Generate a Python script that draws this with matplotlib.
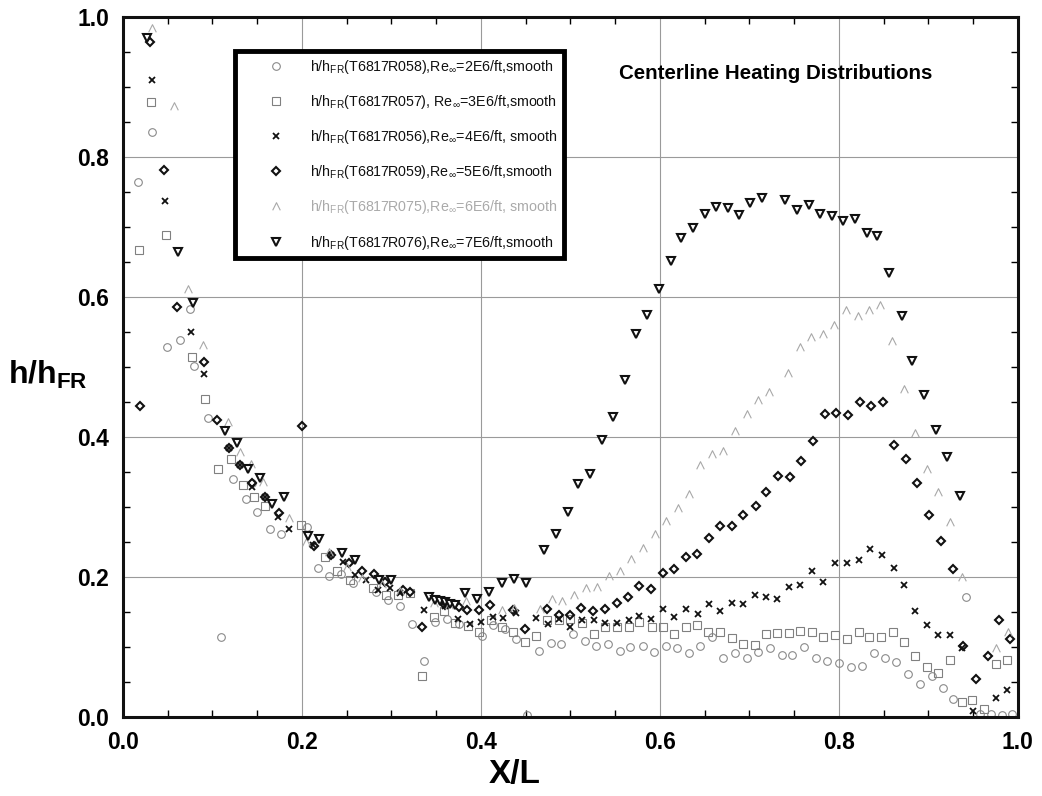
import matplotlib
matplotlib.use('Agg')
import matplotlib.pyplot as plt
from matplotlib.path import Path

plt.rcParams['font.family'] = ['Liberation Sans', 'DejaVu Sans']
plt.rcParams['mathtext.fontset'] = 'custom'
plt.rcParams['mathtext.rm'] = 'Liberation Sans'
plt.rcParams['mathtext.it'] = 'Liberation Sans:italic'
plt.rcParams['mathtext.bf'] = 'Liberation Sans:bold'

# ---------------- data ----------------
x_re2 = [0.017, 0.032, 0.049, 0.064, 0.075, 0.079, 0.095, 0.110, 0.123, 0.137, 0.144, 0.150,
         0.164, 0.177, 0.206, 0.218, 0.230, 0.244, 0.257, 0.283, 0.296, 0.309, 0.323, 0.336,
         0.349, 0.362, 0.376, 0.401, 0.413, 0.427, 0.439, 0.452, 0.465, 0.478, 0.490, 0.503,
         0.516, 0.529, 0.542, 0.555, 0.567, 0.581, 0.593, 0.607, 0.619, 0.632, 0.645, 0.658,
         0.671, 0.684, 0.697, 0.710, 0.723, 0.736, 0.748, 0.761, 0.774, 0.787, 0.800, 0.813,
         0.826, 0.839, 0.851, 0.864, 0.877, 0.891, 0.904, 0.916, 0.928, 0.942, 0.958, 0.970,
         0.982, 0.993]
y_re2 = [0.765, 0.836, 0.529, 0.538, 0.583, 0.501, 0.427, 0.115, 0.340, 0.311, 0.334, 0.293,
         0.269, 0.261, 0.272, 0.213, 0.202, 0.204, 0.192, 0.178, 0.167, 0.159, 0.133, 0.080,
         0.136, 0.140, 0.133, 0.116, 0.131, 0.126, 0.112, 0.003, 0.095, 0.106, 0.104, 0.119,
         0.108, 0.102, 0.105, 0.094, 0.100, 0.102, 0.093, 0.102, 0.099, 0.092, 0.102, 0.114,
         0.085, 0.092, 0.085, 0.093, 0.098, 0.088, 0.088, 0.100, 0.084, 0.080, 0.077, 0.072,
         0.073, 0.091, 0.084, 0.078, 0.062, 0.047, 0.059, 0.042, 0.026, 0.172, 0.004, 0.004,
         0.003, 0.004]

x_re3 = [0.018, 0.031, 0.048, 0.077, 0.092, 0.106, 0.121, 0.134, 0.146, 0.159, 0.199, 0.226,
         0.239, 0.254, 0.279, 0.294, 0.307, 0.321, 0.334, 0.347, 0.359, 0.371, 0.386, 0.398,
         0.411, 0.424, 0.436, 0.449, 0.462, 0.474, 0.487, 0.500, 0.513, 0.526, 0.539, 0.552,
         0.565, 0.577, 0.591, 0.603, 0.616, 0.629, 0.641, 0.654, 0.667, 0.680, 0.693, 0.706,
         0.719, 0.731, 0.744, 0.757, 0.770, 0.782, 0.796, 0.809, 0.822, 0.834, 0.847, 0.860,
         0.873, 0.885, 0.898, 0.911, 0.924, 0.937, 0.949, 0.962, 0.975, 0.988]
y_re3 = [0.667, 0.878, 0.689, 0.514, 0.455, 0.354, 0.369, 0.331, 0.314, 0.301, 0.274, 0.228,
         0.209, 0.196, 0.184, 0.174, 0.174, 0.177, 0.058, 0.143, 0.151, 0.134, 0.130, 0.121,
         0.139, 0.129, 0.121, 0.107, 0.116, 0.139, 0.138, 0.140, 0.134, 0.119, 0.129, 0.129,
         0.129, 0.136, 0.129, 0.128, 0.119, 0.128, 0.132, 0.122, 0.121, 0.113, 0.105, 0.103,
         0.118, 0.120, 0.120, 0.123, 0.122, 0.115, 0.117, 0.112, 0.122, 0.115, 0.114, 0.122,
         0.107, 0.087, 0.071, 0.063, 0.081, 0.022, 0.024, 0.012, 0.076, 0.081]

x_re4 = [0.033, 0.047, 0.076, 0.090, 0.118, 0.131, 0.144, 0.159, 0.173, 0.185, 0.212, 0.233,
         0.246, 0.259, 0.272, 0.285, 0.298, 0.309, 0.336, 0.360, 0.374, 0.388, 0.400, 0.413,
         0.425, 0.439, 0.462, 0.475, 0.487, 0.500, 0.513, 0.526, 0.539, 0.552, 0.565, 0.577,
         0.590, 0.603, 0.616, 0.629, 0.642, 0.655, 0.667, 0.680, 0.693, 0.706, 0.719, 0.731,
         0.744, 0.756, 0.770, 0.782, 0.796, 0.809, 0.822, 0.835, 0.848, 0.861, 0.873, 0.885,
         0.898, 0.911, 0.924, 0.937, 0.950, 0.975, 0.988]
y_re4 = [0.910, 0.737, 0.550, 0.490, 0.384, 0.360, 0.328, 0.314, 0.286, 0.269, 0.246, 0.231,
         0.222, 0.203, 0.196, 0.182, 0.184, 0.177, 0.153, 0.158, 0.140, 0.133, 0.136, 0.143,
         0.142, 0.148, 0.142, 0.133, 0.140, 0.129, 0.139, 0.139, 0.135, 0.135, 0.138, 0.144,
         0.140, 0.154, 0.143, 0.155, 0.147, 0.161, 0.151, 0.163, 0.162, 0.175, 0.171, 0.168,
         0.186, 0.189, 0.209, 0.193, 0.220, 0.220, 0.225, 0.240, 0.231, 0.213, 0.189, 0.151,
         0.131, 0.117, 0.117, 0.099, 0.008, 0.027, 0.039]

x_re5 = [0.019, 0.030, 0.046, 0.060, 0.090, 0.105, 0.118, 0.131, 0.144, 0.159, 0.174, 0.200,
         0.213, 0.233, 0.253, 0.267, 0.280, 0.293, 0.313, 0.321, 0.334, 0.360, 0.375, 0.384,
         0.398, 0.410, 0.436, 0.449, 0.474, 0.487, 0.499, 0.512, 0.525, 0.539, 0.552, 0.564,
         0.577, 0.590, 0.603, 0.616, 0.629, 0.641, 0.655, 0.667, 0.680, 0.693, 0.707, 0.719,
         0.732, 0.745, 0.758, 0.771, 0.784, 0.797, 0.810, 0.823, 0.836, 0.849, 0.861, 0.875,
         0.887, 0.901, 0.914, 0.927, 0.939, 0.953, 0.966, 0.979, 0.991]
y_re5 = [0.444, 0.965, 0.781, 0.586, 0.507, 0.424, 0.384, 0.360, 0.334, 0.314, 0.292, 0.416,
         0.244, 0.231, 0.220, 0.208, 0.204, 0.193, 0.181, 0.178, 0.128, 0.160, 0.157, 0.153,
         0.153, 0.160, 0.153, 0.126, 0.154, 0.146, 0.146, 0.156, 0.151, 0.155, 0.163, 0.172,
         0.187, 0.183, 0.206, 0.211, 0.228, 0.233, 0.256, 0.273, 0.273, 0.288, 0.302, 0.322,
         0.344, 0.343, 0.366, 0.395, 0.433, 0.434, 0.431, 0.450, 0.445, 0.450, 0.389, 0.369,
         0.335, 0.288, 0.251, 0.212, 0.101, 0.054, 0.087, 0.139, 0.111]

x_re6 = [0.032, 0.057, 0.073, 0.089, 0.117, 0.131, 0.143, 0.157, 0.185, 0.205, 0.230, 0.250,
         0.267, 0.290, 0.310, 0.348, 0.364, 0.383, 0.423, 0.437, 0.466, 0.479, 0.491, 0.504,
         0.517, 0.530, 0.543, 0.555, 0.568, 0.581, 0.594, 0.607, 0.620, 0.633, 0.645, 0.658,
         0.671, 0.684, 0.697, 0.710, 0.722, 0.743, 0.756, 0.769, 0.782, 0.794, 0.808, 0.821,
         0.834, 0.846, 0.859, 0.873, 0.885, 0.898, 0.911, 0.924, 0.937, 0.975, 0.989]
y_re6 = [0.984, 0.873, 0.611, 0.531, 0.422, 0.378, 0.361, 0.336, 0.285, 0.250, 0.236, 0.215,
         0.198, 0.190, 0.180, 0.163, 0.160, 0.166, 0.153, 0.156, 0.155, 0.169, 0.166, 0.174,
         0.184, 0.186, 0.201, 0.208, 0.226, 0.241, 0.261, 0.280, 0.299, 0.319, 0.360, 0.376,
         0.380, 0.408, 0.433, 0.453, 0.464, 0.491, 0.528, 0.543, 0.547, 0.560, 0.581, 0.573,
         0.581, 0.589, 0.537, 0.468, 0.406, 0.354, 0.322, 0.279, 0.200, 0.098, 0.121]

x_re7 = [0.027, 0.061, 0.078, 0.114, 0.127, 0.140, 0.153, 0.167, 0.180, 0.207, 0.219, 0.245,
         0.259, 0.286, 0.299, 0.342, 0.349, 0.354, 0.360, 0.365, 0.371, 0.382, 0.396, 0.409,
         0.423, 0.437, 0.450, 0.471, 0.484, 0.497, 0.509, 0.522, 0.535, 0.548, 0.561, 0.573,
         0.586, 0.599, 0.612, 0.624, 0.637, 0.650, 0.663, 0.676, 0.688, 0.701, 0.714, 0.740,
         0.753, 0.766, 0.779, 0.792, 0.805, 0.818, 0.831, 0.843, 0.856, 0.870, 0.882, 0.895,
         0.908, 0.921, 0.935]
y_re7 = [0.970, 0.664, 0.592, 0.408, 0.391, 0.355, 0.341, 0.304, 0.315, 0.258, 0.254, 0.235,
         0.224, 0.196, 0.196, 0.171, 0.167, 0.166, 0.165, 0.161, 0.160, 0.177, 0.169, 0.178,
         0.191, 0.197, 0.192, 0.238, 0.261, 0.293, 0.333, 0.347, 0.396, 0.428, 0.482, 0.547,
         0.575, 0.611, 0.651, 0.685, 0.699, 0.718, 0.728, 0.727, 0.717, 0.735, 0.742, 0.739,
         0.725, 0.731, 0.718, 0.716, 0.709, 0.711, 0.692, 0.687, 0.635, 0.573, 0.509, 0.460,
         0.410, 0.371, 0.316]

labels = [
    r'h/h$_{\mathrm{FR}}$(T6817R058),Re$_{\infty}$=2E6/ft,smooth',
    r'h/h$_{\mathrm{FR}}$(T6817R057), Re$_{\infty}$=3E6/ft,smooth',
    r'h/h$_{\mathrm{FR}}$(T6817R056),Re$_{\infty}$=4E6/ft, smooth',
    r'h/h$_{\mathrm{FR}}$(T6817R059),Re$_{\infty}$=5E6/ft,smooth',
    r'h/h$_{\mathrm{FR}}$(T6817R075),Re$_{\infty}$=6E6/ft, smooth',
    r'h/h$_{\mathrm{FR}}$(T6817R076),Re$_{\infty}$=7E6/ft,smooth',
]
x_ticks = [0.0, 0.2, 0.4, 0.6, 0.8, 1.0]
y_ticks = [0.0, 0.2, 0.4, 0.6, 0.8, 1.0]

# ---------------- figure ----------------
fig = plt.figure(figsize=(10.42, 7.96), dpi=100)
ax = fig.add_axes([0.1180, 0.0992, 0.8589, 0.8794])
ax.set_xlim(0, 1)
ax.set_ylim(0, 1)

caret = Path([(-1, -1), (0, 1), (1, -1)], [Path.MOVETO, Path.LINETO, Path.LINETO])

h1, = ax.plot(x_re2, y_re2, ls='none', marker='o', ms=5.5, mfc='none', mec='#8a8a8a', mew=0.8)
h2, = ax.plot(x_re3, y_re3, ls='none', marker='s', ms=5.5, mfc='none', mec='#808080', mew=0.8)
h3, = ax.plot(x_re4, y_re4, ls='none', marker='x', ms=5, color='#111111', mew=1.3)
h4, = ax.plot(x_re5, y_re5, ls='none', marker='D', ms=4.5, mfc='none', mec='#111111', mew=1.5)
h5, = ax.plot(x_re6, y_re6, ls='none', marker=caret, ms=5.5, mfc='none', mec='#a8a8a8', mew=0.8)
h6, = ax.plot(x_re7, y_re7, ls='none', marker='v', ms=5.8, mfc='white', mec='#111111', mew=1.5)

ax.set_xticks(x_ticks)
ax.set_yticks(y_ticks)
ax.set_xticks([i * 0.05 for i in range(21)], minor=True)
ax.set_yticks([i * 0.05 for i in range(21)], minor=True)
ax.set_xticklabels([f'{v:.1f}' for v in x_ticks], fontsize=16.5, fontweight='bold')
ax.set_yticklabels([f'{v:.1f}' for v in y_ticks], fontsize=16.5, fontweight='bold')
ax.tick_params(which='both', direction='in', top=True, right=True, width=1.0)
ax.tick_params(axis='x', which='major', length=0, pad=10)
ax.tick_params(axis='y', which='major', length=0, pad=10)
ax.tick_params(which='minor', length=5)
ax.grid(True, which='major', color='#9a9a9a', lw=0.8)
for s in ax.spines.values():
    s.set_linewidth(2.2)
    s.set_color('#111111')

leg = ax.legend([h1, h2, h3, h4, h5, h6], labels, loc='upper left',
                bbox_to_anchor=(0.125, 0.951), borderaxespad=0, fontsize=10.3,
                handlelength=4.8, handletextpad=0.0, borderpad=0.45, labelspacing=1.2,
                numpoints=1, fancybox=False, framealpha=1)
leg.get_frame().set_edgecolor('black')
leg.get_frame().set_linewidth(3.5)
for i, t in enumerate(leg.get_texts()):
    t.set_color('#aaaaaa' if i == 4 else '#111111')

ax.text(0.554, 0.92, 'Centerline Heating Distributions', transform=ax.transAxes,
        fontsize=14.8, fontweight='bold', ha='left', va='center')

fig.text(515 / 1042, 1 - 774 / 796, 'X/L', fontsize=24, fontweight='bold', ha='center', va='center')
fig.text(8 / 1042, 1 - 375 / 796, r'h/h$_{\mathbf{FR}}$', fontsize=23, fontweight='bold',
         ha='left', va='center')

fig.savefig('out.png', dpi=100)
